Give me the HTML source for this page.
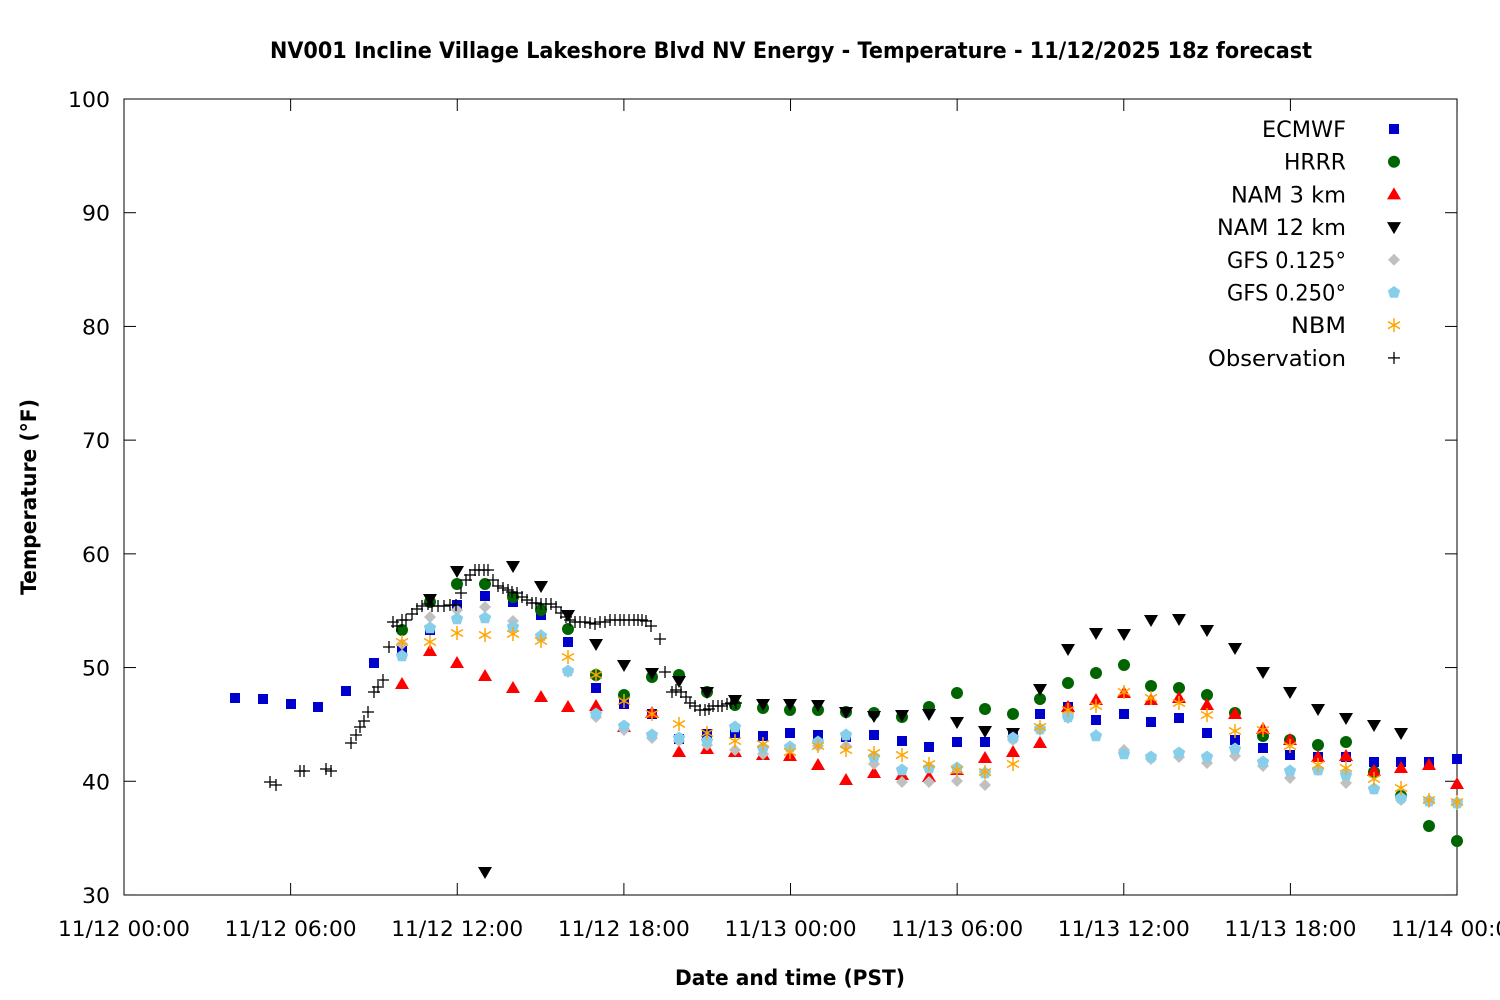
<!DOCTYPE html>
<html><head><meta charset="utf-8"><style>body{margin:0;background:#fff}svg{display:block}text{font-family:"DejaVu Sans","Liberation Sans",sans-serif}</style></head>
<body>
<svg id="s" width="1500" height="1000" xmlns="http://www.w3.org/2000/svg">
<rect width="1500" height="1000" fill="#fff"/>
<text x="791" y="58" text-anchor="middle" font-size="22" font-weight="bold" textLength="1042" lengthAdjust="spacingAndGlyphs">NV001 Incline Village Lakeshore Blvd NV Energy - Temperature - 11/12/2025 18z forecast</text>
<text x="790" y="985" text-anchor="middle" font-size="21" font-weight="bold" textLength="230" lengthAdjust="spacingAndGlyphs">Date and time (PST)</text>
<text transform="translate(36,497) rotate(-90)" text-anchor="middle" font-size="21" font-weight="bold" textLength="196" lengthAdjust="spacingAndGlyphs">Temperature (°F)</text>
<g id="ax"></g>
<g id="pts"></g>
</svg>
<script>
const NS="http://www.w3.org/2000/svg";
const ax=document.getElementById('ax'),P=document.getElementById('pts');
function el(t,a,p){const e=document.createElementNS(NS,t);for(const k in a)e.setAttribute(k,a[k]);(p||P).appendChild(e);return e;}
el('rect',{x:124,y:99,width:1333,height:796,fill:'none',stroke:'#000','stroke-width':1},ax);
for(let i=0;i<=7;i++){const y=99+i*113.71;const v=100-i*10;
 el('line',{x1:124,y1:y,x2:136,y2:y,stroke:'#000'},ax);el('line',{x1:1445,y1:y,x2:1457,y2:y,stroke:'#000'},ax);
 const t=el('text',{x:110,y:y+8,'text-anchor':'end','font-size':21.5,textLength:(v==100?42:28),lengthAdjust:'spacingAndGlyphs'},ax);t.textContent=v;}
const xl=["11/12 00:00","11/12 06:00","11/12 12:00","11/12 18:00","11/13 00:00","11/13 06:00","11/13 12:00","11/13 18:00","11/14 00:00"];
for(let i=0;i<=8;i++){const x=124+i*166.63;
 el('line',{x1:x,y1:895,x2:x,y2:883,stroke:'#000'},ax);el('line',{x1:x,y1:99,x2:x,y2:111,stroke:'#000'},ax);
 const t=el('text',{x:x,y:936,'text-anchor':'middle','font-size':21.5,textLength:132,lengthAdjust:'spacingAndGlyphs'},ax);t.textContent=xl[i];}
function sq(x,y){el('rect',{x:x-5,y:y-5,width:10,height:10,fill:'#0000cc'});}
function ci(x,y){el('circle',{cx:x,cy:y,r:6,fill:'#006400'});}
function tu(x,y){el('polygon',{points:`${x},${y-7} ${x+7},${y+5} ${x-7},${y+5}`,fill:'#ff0000'});}
function td(x,y){el('polygon',{points:`${x},${y+7} ${x+7},${y-5} ${x-7},${y-5}`,fill:'#000'});}
function di(x,y){el('polygon',{points:`${x},${y-6} ${x+6},${y} ${x},${y+6} ${x-6},${y}`,fill:'#c0c0c0'});}
function pe(x,y){let p=[];for(let k=0;k<5;k++){const a=-Math.PI/2+k*2*Math.PI/5;p.push((x+6.5*Math.cos(a))+','+(y+6.5*Math.sin(a)));}el('polygon',{points:p.join(' '),fill:'#87ceeb'});}
function st(x,y){const g=el('g',{stroke:'#ffa500','stroke-width':1.5});[[0,7],[6,3.5],[6,-3.5]].forEach(([a,b])=>el('line',{x1:x-a,y1:y-b,x2:x+a,y2:y+b},g));}
function pl(x,y){const g=el('g',{stroke:'#000','stroke-width':1.3});el('line',{x1:x-6,y1:y,x2:x+6,y2:y},g);el('line',{x1:x,y1:y-6,x2:x,y2:y+6},g);}
function draw(f,s){s.trim().split(/\s+/).forEach(p=>{const [x,y]=p.split(':').map(Number);f(x,y);});}
draw(sq,"235:698 263:699 291:704 318:707 346:691 374:663 402:651 430:630 457:605 485:596 513:602 541:615 568:642 596:688 624:704 652:714 679:739 707:734 735:733 763:736 790:733 818:735 846:737 874:735 902:741 929:747 957:742 985:742 1013:735 1040:714 1068:707 1096:720 1124:714 1151:722 1179:718 1207:733 1235:740 1263:748 1290:755 1318:757 1346:757 1374:762 1401:762 1429:762 1457:759");
draw(ci,"402:630 430:602 457:584 485:584 513:597 541:610 568:629 596:675 624:695 652:677 679:675 707:692 735:705 763:708 790:710 818:710 846:712 874:713 902:717 929:707 957:693 985:709 1013:714 1040:699 1068:683 1096:673 1124:665 1151:686 1179:688 1207:695 1235:713 1263:736 1290:740 1318:745 1346:742 1374:772 1401:796 1429:826 1457:841");
draw(tu,"402:684 430:651 457:663 485:676 513:688 541:697 568:707 596:706 624:727 652:713 679:752 707:749 735:752 763:755 790:756 818:765 846:780 874:773 902:775 929:777 957:770 985:758 1013:752 1040:743 1068:707 1096:700 1124:693 1151:700 1179:698 1207:705 1235:714 1263:729 1290:740 1318:757 1346:756 1374:771 1401:768 1429:765 1457:784");
draw(td,"430:599 457:571 485:872 513:566 541:586 568:615 596:644 624:665 652:673 679:681 707:692 735:700 763:704 790:704 818:705 846:712 874:716 902:715 929:714 957:722 985:731 1013:733 1040:689 1068:649 1096:633 1124:634 1151:620 1179:619 1207:630 1235:648 1263:672 1290:692 1318:709 1346:718 1374:725 1401:733");
draw(di,"402:644 430:617 457:610 485:607 513:621 541:635 568:672 596:717 624:730 652:738 679:741 707:745 735:750 763:754 790:748 818:746 846:746 874:764 902:782 929:782 957:781 985:785 1013:740 1040:730 1068:718 1096:735 1124:750 1151:759 1179:757 1207:763 1235:756 1263:766 1290:778 1318:770 1346:783 1374:789 1401:800 1429:802 1457:804");
draw(pe,"402:656 430:628 457:619 485:618 513:627 541:636 568:671 596:714 624:726 652:735 679:738 707:741 735:727 763:748 790:747 818:742 846:735 874:757 902:770 929:768 957:768 985:773 1013:738 1040:729 1068:717 1096:736 1124:754 1151:757 1179:753 1207:757 1235:749 1263:762 1290:771 1318:770 1346:775 1374:789 1401:798 1429:801 1457:803");
draw(st,"402:642 430:642 457:633 485:635 513:634 541:641 568:657 596:675 624:701 652:714 679:724 707:733 735:741 763:744 790:752 818:746 846:750 874:753 902:755 929:764 957:770 985:772 1013:764 1040:727 1068:710 1096:706 1124:692 1151:698 1179:703 1207:715 1235:731 1263:730 1290:746 1318:765 1346:768 1374:779 1401:788 1429:800 1457:802");
draw(pl,"270:782 276:785 300:771 304:771 326:769 331:771 351:743 356:735 360:727 364:721 368:712 374:692 378:687 383:680 389:647 393:622 397:626 402:620 406:620 412:614 417:609 422:606 428:604 432:606 438:606 444:606 450:605 456:605 461:593 466:580 470:575 475:570 479:570 484:570 488:570 493:580 498:586 503:588 508:590 512:592 517:593 522:597 527:600 532:603 536:603 541:604 546:604 551:604 556:607 561:613 566:617 570:620 575:622 580:622 585:622 590:623 595:624 600:622 605:622 610:620 615:620 620:620 624:620 629:620 634:620 638:620 642:620 646:621 651:626 660:639 665:672 672:692 676:690 681:692 686:697 690:703 695:706 700:710 705:710 709:709 713:706 718:706 722:706 727:704 731:703 736:703");
const L=[["ECMWF",sq,84],["HRRR",ci,62],["NAM 3 km",tu,115],["NAM 12 km",td,129],["GFS 0.125°",di,119],["GFS 0.250°",pe,119],["NBM",st,55],["Observation",pl,138]];
L.forEach(([n,f,w],i)=>{const y=129+i*32.7;const t=el('text',{x:1346,y:y+8,'text-anchor':'end','font-size':22,textLength:w,lengthAdjust:'spacingAndGlyphs'});t.textContent=n;f(1394,y);});
</script>
</body></html>
